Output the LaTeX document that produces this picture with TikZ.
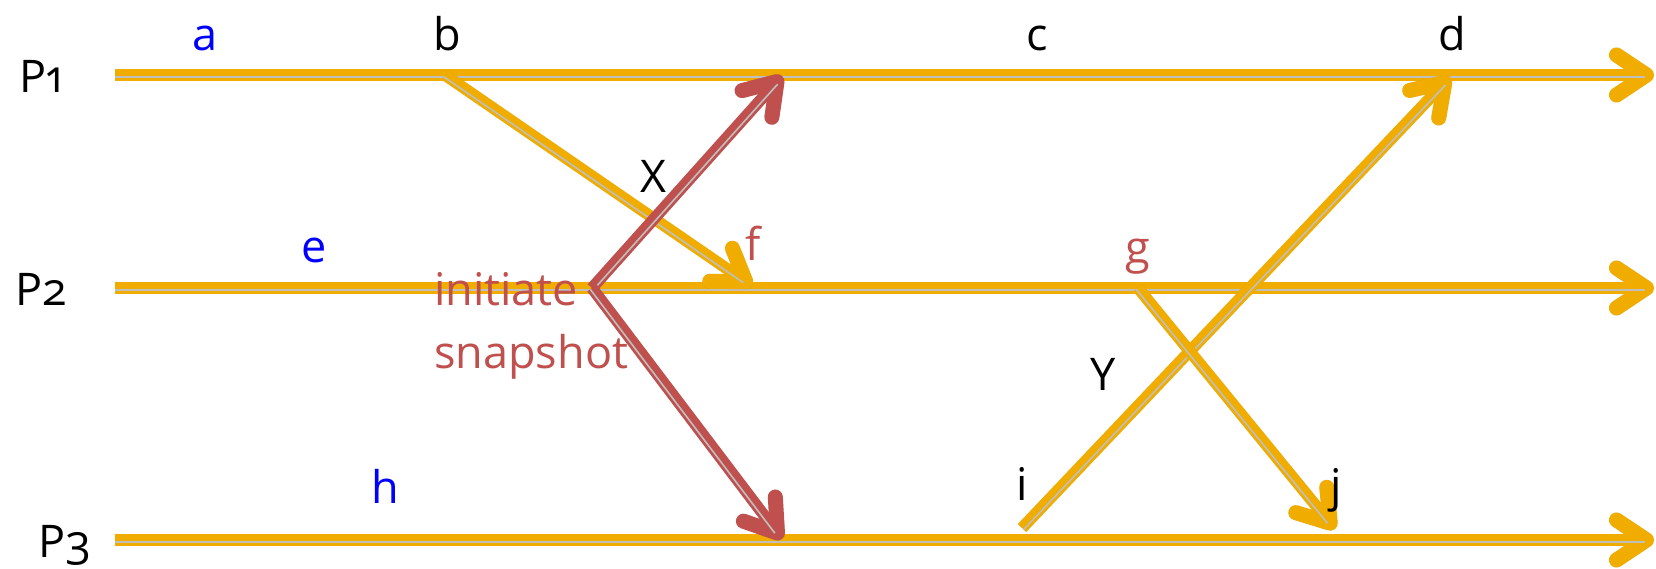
\documentclass[tikz,border=0pt]{standalone}
\usepackage{fontspec}
\setmainfont{Open Sans}[Numbers=OldStyle]
\usetikzlibrary{arrows.meta,calc}
\definecolor{gold}{RGB}{240,173,0}
\definecolor{sred}{RGB}{192,80,77}
\definecolor{lblue}{RGB}{0,0,255}
\tikzset{
  lbl/.style={anchor=base, inner sep=0pt, font=\fontsize{45}{54}\selectfont},
  tip/.style={-{Straight Barb[length=30pt,width=40pt,line width'=15pt,round]}},
  mainline/.style={line width=11.5pt, tip},
  shadowline/.style={line width=11.5pt, black, opacity=.12, tip},
  gapline/.style={line width=1.6pt, white!75!black},
}
\newcommand\msgline[3]{%
  \draw[shadowline, shift={(2,5)}] (#2) -- (#3);
  \draw[mainline, #1] (#2) -- (#3);
  \draw[gapline] ($(#2)!2.2pt!-90:(#3)$) -- ($(#3)!9pt!(#2)!2.2pt!90:(#2)$);
}
\begin{document}
\begin{tikzpicture}[x=1pt,y=-1pt]
\useasboundingbox (0,0) rectangle (1656,568);
% process lines
\coordinate (p1s) at (115,75);  \coordinate (p1e) at (1654,75);
\coordinate (p2s) at (115,288); \coordinate (p2e) at (1654,288);
\coordinate (p3s) at (115,540); \coordinate (p3e) at (1654,540);
% event points
\coordinate (b0) at (445,75);
\coordinate (f0) at (752,286);
\coordinate (vx) at (592,288);
\coordinate (x1) at (782,76);
\coordinate (x3) at (782,539);
\coordinate (g0) at (1138,288);
\coordinate (j0) at (1335,529);
\coordinate (i0) at (1022,528);
\coordinate (d0) at (1450,77);

\msgline{gold}{p1s}{p1e}
\msgline{gold}{p2s}{p2e}
\msgline{gold}{p3s}{p3e}
\msgline{gold}{b0}{f0}
\msgline{sred}{vx}{x1}
\msgline{sred}{vx}{x3}
\msgline{gold}{i0}{d0}
\msgline{gold}{g0}{j0}

% labels
\node[lbl] (P1) at (41,92) {P1};
\node[lbl] (P2) at (41,305) {P2};
\node[lbl] (P3) at (65,557) {P3};
\node[lbl, lblue] (a) at (205,50) {a};
\node[lbl] (b) at (447,50) {b};
\node[lbl] (c) at (1037,50) {c};
\node[lbl] (d) at (1452,50) {d};
\node[lbl, lblue] (e) at (314,262) {e};
\node[lbl, sred] (f) at (753,260) {f};
\node[lbl, sred] (g) at (1138,263) {g};
\node[lbl, lblue] (h) at (385,503) {h};
\node[lbl] (i) at (1022,500) {i};
\node[lbl] (j) at (1336,501) {j};
\node[lbl] (X) at (653,192) {X};
\node[lbl] (Y) at (1103,390) {Y};
\node[lbl, sred, anchor=base west] (init) at (434,305) {initiate};
\node[lbl, sred, anchor=base west] (snap) at (434,368) {snapshot};
\end{tikzpicture}
\end{document}
